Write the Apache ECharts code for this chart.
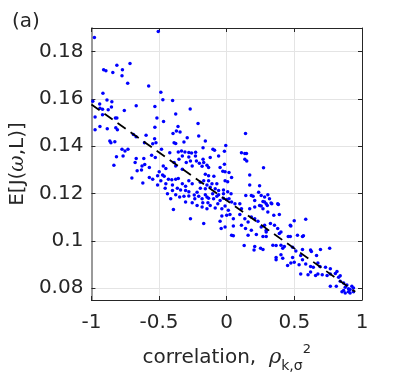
<!DOCTYPE html>
<html>
<head>
<meta charset="utf-8">
<title>E[J] vs correlation</title>
<script src="https://cdn.jsdelivr.net/npm/echarts@6/dist/echarts.min.js"></script>
<style>
  html, body { margin: 0; padding: 0; background: #fff; }
  #chart { width: 407px; height: 378px; }
</style>
</head>
<body>
<div id="chart"></div>
<script>
// axis ranges and ticks
const xRange = [-1, 1];
const yRange = [0.075, 0.19];
const yTickValues = [0.08, 0.1, 0.12, 0.14, 0.16, 0.18];

// dashed trend line (end points)
const fitLine = [[-1, 0.1577], [0.95, 0.0785]];

// scatter points [correlation, E[J]]
const pointsLeft = [
  [-0.978,0.186],[-0.506,0.1885],[-0.91,0.1724],[-0.893,0.1719],[-0.812,0.1743],[-0.842,0.1712],
  [-0.771,0.1724],[-0.715,0.175],[-0.774,0.1698],[-0.732,0.1666],[-0.577,0.1655],[-0.915,0.1624],
  [-0.487,0.1628],[-0.885,0.1596],[-0.849,0.1588],[-0.472,0.1597],[-0.4,0.1593],[-0.939,0.1579],
  [-0.852,0.1566],[-0.669,0.1571],[-0.531,0.1568],[-0.918,0.1557],[-0.876,0.1554],[-0.757,0.1551],
  [-0.27,0.1558],[-0.377,0.1536],[-0.973,0.1524],[-0.823,0.152],[-0.812,0.152],[-0.516,0.152],
  [-0.937,0.1561],[-0.99,0.159],[-0.918,0.1533],
  [-0.973,0.147],[-0.937,0.1484],[-0.883,0.1474],[-0.864,0.1422],[-0.856,0.1415],[-0.827,0.1419],
  [-0.82,0.1478],[-0.808,0.147],[-0.774,0.1387],[-0.766,0.1359],[-0.752,0.138],[-0.73,0.1387],
  [-0.815,0.1356],[-0.834,0.132],[-0.669,0.1348],[-0.677,0.1331],[-0.701,0.1266],[-0.662,0.1296],
  [-0.63,0.13],[-0.69,0.145],[-0.67,0.144],[-0.555,0.1362],[-0.528,0.1352],[-0.626,0.1317],
  [-0.606,0.1323],[-0.511,0.1236]
];

const pointsMiddle = [
  [-0.467,0.1505],[-0.531,0.148],[-0.36,0.1484],[-0.212,0.1496],[-0.372,0.1464],[-0.345,0.146],
  [-0.397,0.1454],[-0.596,0.1447],[-0.292,0.1436],[-0.207,0.1443],[0.139,0.1454],[-0.316,0.1418],
  [-0.533,0.1432],[-0.523,0.1415],[-0.547,0.1411],[-0.608,0.1415],
  [-0.389,0.1415],[-0.377,0.1412],[-0.175,0.1394],[-0.102,0.1387],[-0.09,0.1383],[-0.007,0.1403],
  [-0.06,0.1359],[-0.017,0.1379],[0.109,0.1373],[0.134,0.1369],[0.146,0.1369],[0.134,0.1345],[0.148,0.1338],
  [-0.482,0.1387],[-0.421,0.1373],[-0.358,0.1376],[-0.334,0.138],[-0.309,0.1376],[-0.28,0.1374],
  [-0.26,0.1372],[-0.23,0.1375],[-0.328,0.1359],[-0.28,0.1355],[-0.231,0.1359],[-0.268,0.1338],[-0.224,0.1338],
  [-0.613,0.1348],[-0.572,0.131],[-0.499,0.1292],[-0.469,0.1317],[-0.45,0.1306],[-0.389,0.1331],
  [-0.377,0.1317],[-0.353,0.1345],[-0.299,0.1331],[-0.328,0.1303],[-0.255,0.1317],[-0.202,0.1328],
  [-0.182,0.1315],[-0.17,0.1331],[-0.158,0.1282],[-0.134,0.1275],[-0.095,0.1273],[-0.049,0.131],
  [-0.029,0.1294],[-0.012,0.1292],[0.017,0.1289],[0.036,0.1268],[0.17,0.1278],[0.17,0.1236],
  [-0.62,0.1245],[-0.572,0.1268],[-0.547,0.1261],[-0.511,0.1275],[-0.474,0.1278],[-0.462,0.1273],
  [-0.431,0.1261],[-0.406,0.1258],[-0.377,0.1261],[-0.358,0.1264],[-0.487,0.1254],[-0.45,0.1241],
  [-0.401,0.1236],[-0.328,0.1241],[-0.304,0.1231],[-0.255,0.1241],[-0.28,0.1254],
  [-0.455,0.1223],[-0.401,0.1213],[-0.365,0.1223],[-0.341,0.1215],[-0.304,0.1213],[-0.28,0.1208],
  [-0.219,0.1206],[-0.195,0.1223],[-0.158,0.122],[-0.146,0.1236],[-0.122,0.1227],[-0.085,0.122],
  [-0.06,0.1213],[-0.024,0.1215],[0.007,0.1208],[0.032,0.1199],
  [-0.438,0.1199],[-0.377,0.1195],[-0.316,0.1189],[-0.28,0.119],[-0.24,0.1194],[-0.207,0.1189],
  [-0.182,0.1178],[-0.146,0.1185],[-0.134,0.118],[-0.097,0.1178],[-0.073,0.1189],[-0.049,0.1171],
  [-0.024,0.118],[0,0.1175],[0.017,0.1178],[0.036,0.1164],[0.061,0.1157],[0.097,0.1157],[0.109,0.1136],
  [-0.304,0.1164],[-0.255,0.1161],[-0.219,0.115],[-0.182,0.1143],[-0.146,0.1136],[-0.122,0.115],
  [-0.085,0.1139],[-0.036,0.1136],[-0.012,0.1147],[0.012,0.1129],[-0.394,0.1133],[-0.268,0.1094],
  [-0.17,0.1073],[-0.049,0.1083],[-0.036,0.1105],[0,0.1108],[0.024,0.1111],[0.049,0.1094],
  [0.097,0.1111],[0.134,0.1094],[0.158,0.108],[0.182,0.1101],[0.207,0.1094],[0.231,0.1083],
  [0.255,0.1059],[0.292,0.1045],[-0.012,0.1059],[0.049,0.1063],[0.109,0.1066],[0.139,0.1052],
  [0.182,0.1045],[-0.041,0.1052],[0.036,0.1024],[0.158,0.1024],[0.219,0.1027],[0.292,0.1018],
  [0.236,0.1206],[0.255,0.1192],[0.28,0.1185],[0.304,0.1195],[0.316,0.1178],[0.182,0.1192],
  [0.207,0.1171],[0.243,0.115],[0.292,0.1157],[0.268,0.1136],[0.304,0.1122],[0.17,0.1136],
  [0.243,0.1233],[-0.012,0.1254],[0.007,0.125],
  [-0.158,0.1422],[-0.122,0.1352],[-0.175,0.1345],[-0.146,0.132],[-0.134,0.131],[-0.017,0.1324],
  [0.272,0.1309],[0.141,0.1192],[0.195,0.1189],[0.28,0.1164],[0.3,0.115],[0.333,0.1157],
  [0.382,0.1154],[0.207,0.1143],[0.255,0.1147],
  [-0.195,0.1248],[-0.17,0.1254],[-0.134,0.1254],[-0.109,0.1241],[-0.073,0.1241],[-0.158,0.1195],
  [-0.104,0.1199],[-0.06,0.1195],[-0.024,0.1199],[-0.177,0.1161],[-0.139,0.1161],[-0.066,0.1157],
  [-0.236,0.1178],[-0.348,0.1185],[-0.414,0.1178]
];

const pointsRight = [
  [0.268,0.1166],[0.328,0.116],[0.377,0.1157],[0.389,0.1111],[0.499,0.1085],[0.584,0.1091],
  [0.474,0.1063],[0.323,0.1073],[0.353,0.1066],[0.377,0.1052],[0.401,0.1038],[0.389,0.1031],
  [0.28,0.1066],[0.292,0.1038],[0.268,0.1018],[0.455,0.1018],[0.47,0.1018],[0.523,0.1024],[0.56,0.1018],
  [0.341,0.0982],[0.365,0.098],[0.401,0.0982],[0.414,0.0969],[0.426,0.0976],[0.487,0.0973],
  [0.511,0.0957],[0.56,0.0964],[0.62,0.0961],[0.626,0.0955],[0.693,0.0964],[0.761,0.0969],
  [0.365,0.093],[0.401,0.0941],[0.414,0.0927],[0.45,0.0896],[0.474,0.0906],[0.499,0.091],
  [0.535,0.0899],[0.56,0.092],[0.547,0.0938],[0.487,0.093],
  [0.584,0.0902],[0.62,0.0892],[0.64,0.0888],[0.664,0.0938],[0.674,0.0906],[0.689,0.0892],[0.73,0.0888],
  [0.547,0.086],[0.601,0.0857],[0.62,0.0868],[0.657,0.0854],[0.674,0.086],[0.706,0.0857],
  [0.742,0.0854],[0.766,0.086],[0.766,0.0882],[0.815,0.0871],[0.827,0.0846],[0.766,0.0808],[0.81,0.0808],
  [0.839,0.0829],[0.864,0.0822],[0.888,0.0813],[0.876,0.0804],[0.9,0.0798],[0.912,0.0794],
  [0.925,0.0808],[0.937,0.0801],[0.864,0.079],[0.852,0.0785],[0.876,0.078],[0.9,0.0785],
  [0.912,0.078],[0.937,0.0785],
  [0.207,0.0976],[0.25,0.0969],[0.268,0.0964],[0.202,0.0961],[0.049,0.1022],[0.365,0.092],[0.129,0.098],
  [0.348,0.1108],[0.47,0.1066],[0.567,0.1022],[0.803,0.0862],[0.839,0.0852]
];

const allPoints = pointsLeft.concat(pointsMiddle, pointsRight);

const FONT = 'DejaVu Sans';
const TXT = '#262626';

const chart = echarts.init(document.getElementById('chart'), null, { renderer: 'canvas' });

chart.setOption({
  animation: false,
  backgroundColor: '#fff',
  grid: { left: 88, right: 45, top: 28, bottom: 76 },
  graphic: [{
    type: 'text', left: 12, top: 12,
    style: { text: '(a)', fontFamily: FONT, fontSize: 20, fill: TXT }
  }],
  xAxis: [{
    type: 'value', position: 'bottom',
    min: xRange[0], max: xRange[1], interval: 0.5,
    axisLine: { onZero: false, lineStyle: { color: TXT, width: 1 } },
    axisTick: { inside: true, length: 4, lineStyle: { color: TXT } },
    axisLabel: { fontFamily: FONT, fontSize: 20, color: TXT, margin: 13 },
    splitLine: { lineStyle: { color: '#e4e4e4', width: 1 } },
    name: '{t|correlation,  }{r|ρ}{s|k,σ}{p|2}',
    nameLocation: 'middle', nameGap: 43,
    nameTextStyle: {
      fontFamily: FONT, fontSize: 20, color: TXT,
      rich: {
        t: { fontFamily: FONT, fontSize: 20, color: TXT, lineHeight: 30 },
        r: { fontFamily: 'DejaVu Serif', fontStyle: 'italic', fontSize: 21, color: TXT, lineHeight: 30 },
        s: { fontFamily: FONT, fontSize: 14, color: TXT, verticalAlign: 'bottom', lineHeight: 14 },
        p: { fontFamily: FONT, fontSize: 13, color: TXT, verticalAlign: 'top', lineHeight: 13 }
      }
    }
  }, {
    type: 'value', position: 'top',
    min: xRange[0], max: xRange[1], interval: 0.5,
    axisLine: { onZero: false, lineStyle: { color: TXT, width: 1 } },
    axisTick: { inside: true, length: 4, lineStyle: { color: TXT } },
    axisLabel: { show: false },
    splitLine: { show: false }
  }],
  yAxis: [{
    type: 'value', position: 'left',
    min: yRange[0], max: yRange[1], splitNumber: 5,
    axisLine: { show: true, onZero: false, lineStyle: { color: '#9a9a9a', width: 2 } },
    axisTick: { show: true, inside: true, length: 4, lineStyle: { color: TXT } },
    axisLabel: {
      fontFamily: FONT, fontSize: 20, color: TXT, margin: 8,
      formatter: v => yTickValues.some(t => Math.abs(t - v) < 1e-9) ? String(+v.toFixed(2)) : ''
    },
    splitLine: { lineStyle: { color: '#e4e4e4', width: 1 } },
    name: '{t|E[J(}{w|ω}{t|,L)]}',
    nameLocation: 'middle', nameGap: 58, nameRotate: 90,
    nameTextStyle: {
      fontFamily: FONT, fontSize: 20, color: TXT,
      rich: {
        t: { fontFamily: FONT, fontSize: 20, color: TXT },
        w: { fontFamily: 'DejaVu Serif', fontStyle: 'italic', fontSize: 20, color: TXT }
      }
    }
  }, {
    type: 'value', position: 'right',
    min: yRange[0], max: yRange[1], splitNumber: 5,
    axisLine: { show: true, onZero: false, lineStyle: { color: TXT, width: 1 } },
    axisTick: { show: true, inside: true, length: 4, lineStyle: { color: TXT } },
    axisLabel: { show: false },
    splitLine: { show: false }
  }],
  series: [{
    type: 'scatter',
    data: allPoints,
    symbol: 'circle',
    symbolSize: 3.5,
    itemStyle: { color: '#0000ff', opacity: 1 },
    silent: true
  }, {
    type: 'line',
    data: fitLine,
    symbol: 'none',
    lineStyle: { color: '#000', width: 1.8, type: [10, 6] },
    silent: true,
    z: 3
  }]
});
</script>
</body>
</html>
